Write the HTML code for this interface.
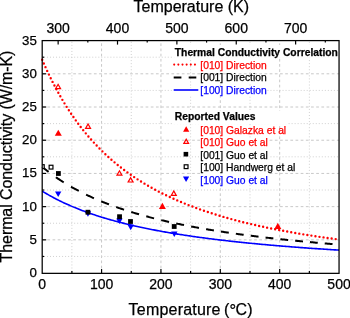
<!DOCTYPE html><html><head><meta charset="utf-8"><style>html,body{margin:0;padding:0;background:#fff;width:350px;height:318px;overflow:hidden}svg{display:block;will-change:transform}text{font-family:"Liberation Sans",sans-serif}</style></head><body><svg width="350" height="318" viewBox="0 0 350 318"><defs><clipPath id="pc"><rect x="42.20" y="40.60" width="296.85" height="232.45"/></clipPath></defs><rect width="350" height="318" fill="#fff"/><line x1="71.89" y1="40.60" x2="71.89" y2="273.05" stroke="#d0d0d0" stroke-width="1" stroke-dasharray="1 2.05" stroke-dashoffset="-1.2"/><line x1="101.57" y1="40.60" x2="101.57" y2="273.05" stroke="#c8c8c8" stroke-width="1" stroke-dasharray="2.72 2.45" stroke-dashoffset="2.4"/><line x1="131.25" y1="40.60" x2="131.25" y2="273.05" stroke="#d0d0d0" stroke-width="1" stroke-dasharray="1 2.05" stroke-dashoffset="-1.2"/><line x1="160.94" y1="40.60" x2="160.94" y2="273.05" stroke="#c8c8c8" stroke-width="1" stroke-dasharray="2.72 2.45" stroke-dashoffset="2.4"/><line x1="190.62" y1="40.60" x2="190.62" y2="273.05" stroke="#d0d0d0" stroke-width="1" stroke-dasharray="1 2.05" stroke-dashoffset="-1.2"/><line x1="220.31" y1="40.60" x2="220.31" y2="273.05" stroke="#c8c8c8" stroke-width="1" stroke-dasharray="2.72 2.45" stroke-dashoffset="2.4"/><line x1="250.00" y1="40.60" x2="250.00" y2="273.05" stroke="#d0d0d0" stroke-width="1" stroke-dasharray="1 2.05" stroke-dashoffset="-1.2"/><line x1="279.68" y1="40.60" x2="279.68" y2="273.05" stroke="#c8c8c8" stroke-width="1" stroke-dasharray="2.72 2.45" stroke-dashoffset="2.4"/><line x1="309.37" y1="40.60" x2="309.37" y2="273.05" stroke="#d0d0d0" stroke-width="1" stroke-dasharray="1 2.05" stroke-dashoffset="-1.2"/><line x1="42.20" y1="256.45" x2="339.05" y2="256.45" stroke="#d0d0d0" stroke-width="1" stroke-dasharray="1 2.02" stroke-dashoffset="-1.76"/><line x1="42.20" y1="239.84" x2="339.05" y2="239.84" stroke="#c8c8c8" stroke-width="1" stroke-dasharray="2.72 2.45"/><line x1="42.20" y1="223.24" x2="339.05" y2="223.24" stroke="#d0d0d0" stroke-width="1" stroke-dasharray="1 2.02" stroke-dashoffset="-1.76"/><line x1="42.20" y1="206.64" x2="339.05" y2="206.64" stroke="#c8c8c8" stroke-width="1" stroke-dasharray="2.72 2.45"/><line x1="42.20" y1="190.03" x2="339.05" y2="190.03" stroke="#d0d0d0" stroke-width="1" stroke-dasharray="1 2.02" stroke-dashoffset="-1.76"/><line x1="42.20" y1="173.43" x2="339.05" y2="173.43" stroke="#c8c8c8" stroke-width="1" stroke-dasharray="2.72 2.45"/><line x1="42.20" y1="156.82" x2="339.05" y2="156.82" stroke="#d0d0d0" stroke-width="1" stroke-dasharray="1 2.02" stroke-dashoffset="-1.76"/><line x1="42.20" y1="140.22" x2="339.05" y2="140.22" stroke="#c8c8c8" stroke-width="1" stroke-dasharray="2.72 2.45"/><line x1="42.20" y1="123.62" x2="339.05" y2="123.62" stroke="#d0d0d0" stroke-width="1" stroke-dasharray="1 2.02" stroke-dashoffset="-1.76"/><line x1="42.20" y1="107.01" x2="339.05" y2="107.01" stroke="#c8c8c8" stroke-width="1" stroke-dasharray="2.72 2.45"/><line x1="42.20" y1="90.41" x2="339.05" y2="90.41" stroke="#d0d0d0" stroke-width="1" stroke-dasharray="1 2.02" stroke-dashoffset="-1.76"/><line x1="42.20" y1="73.81" x2="339.05" y2="73.81" stroke="#c8c8c8" stroke-width="1" stroke-dasharray="2.72 2.45"/><line x1="42.20" y1="57.20" x2="339.05" y2="57.20" stroke="#d0d0d0" stroke-width="1" stroke-dasharray="1 2.02" stroke-dashoffset="-1.76"/><rect x="173" y="45" width="165.5" height="12.8" fill="#fff"/><rect x="200" y="59" width="67" height="11" fill="#fff"/><rect x="200" y="75" width="67" height="8" fill="#fff"/><rect x="172" y="88" width="95" height="7" fill="#fff"/><rect x="172.5" y="111" width="115.5" height="13" fill="#fff"/><rect x="200" y="138" width="69" height="37" fill="#fff"/><path d="M42.20,59.68 L43.39,62.43 L44.57,65.13 L45.76,67.77 L46.95,70.36 L48.14,72.90 L49.32,75.39 L50.51,77.83 L51.70,80.23 L52.89,82.58 L54.07,84.88 L55.26,87.15 L56.45,89.37 L57.64,91.54 L58.82,93.68 L60.01,95.78 L61.20,97.84 L62.39,99.87 L63.57,101.86 L64.76,103.81 L65.95,105.73 L67.14,107.61 L68.32,109.46 L69.51,111.28 L70.70,113.07 L71.89,114.83 L73.07,116.55 L74.26,118.25 L75.45,119.92 L76.63,121.56 L77.82,123.17 L79.01,124.76 L80.20,126.32 L81.38,127.86 L82.57,129.37 L83.76,130.86 L84.95,132.32 L86.13,133.76 L87.32,135.17 L88.51,136.57 L89.70,137.94 L90.88,139.29 L92.07,140.62 L93.26,141.93 L94.45,143.22 L95.63,144.49 L96.82,145.74 L98.01,146.97 L99.20,148.18 L100.38,149.37 L101.57,150.55 L102.76,151.71 L103.94,152.85 L105.13,153.98 L106.32,155.09 L107.51,156.18 L108.69,157.26 L109.88,158.32 L111.07,159.37 L112.26,160.40 L113.44,161.41 L114.63,162.42 L115.82,163.41 L117.01,164.38 L118.19,165.34 L119.38,166.29 L120.57,167.23 L121.76,168.15 L122.94,169.06 L124.13,169.96 L125.32,170.85 L126.51,171.72 L127.69,172.58 L128.88,173.43 L130.07,174.27 L131.25,175.10 L132.44,175.92 L133.63,176.73 L134.82,177.53 L136.00,178.31 L137.19,179.09 L138.38,179.86 L139.57,180.61 L140.75,181.36 L141.94,182.10 L143.13,182.83 L144.32,183.55 L145.50,184.26 L146.69,184.96 L147.88,185.65 L149.07,186.34 L150.25,187.01 L151.44,187.68 L152.63,188.34 L153.82,189.00 L155.00,189.64 L156.19,190.28 L157.38,190.91 L158.57,191.53 L159.75,192.14 L160.94,192.75 L162.13,193.35 L163.31,193.94 L164.50,194.53 L165.69,195.11 L166.88,195.68 L168.06,196.25 L169.25,196.81 L170.44,197.36 L171.63,197.91 L172.81,198.45 L174.00,198.99 L175.19,199.52 L176.38,200.04 L177.56,200.56 L178.75,201.07 L179.94,201.57 L181.13,202.07 L182.31,202.57 L183.50,203.06 L184.69,203.54 L185.88,204.02 L187.06,204.50 L188.25,204.97 L189.44,205.43 L190.62,205.89 L191.81,206.34 L193.00,206.79 L194.19,207.24 L195.37,207.68 L196.56,208.11 L197.75,208.55 L198.94,208.97 L200.12,209.39 L201.31,209.81 L202.50,210.23 L203.69,210.64 L204.87,211.04 L206.06,211.44 L207.25,211.84 L208.44,212.23 L209.62,212.62 L210.81,213.01 L212.00,213.39 L213.19,213.77 L214.37,214.14 L215.56,214.51 L216.75,214.88 L217.94,215.24 L219.12,215.60 L220.31,215.96 L221.50,216.31 L222.68,216.66 L223.87,217.00 L225.06,217.35 L226.25,217.69 L227.43,218.02 L228.62,218.35 L229.81,218.68 L231.00,219.01 L232.18,219.33 L233.37,219.66 L234.56,219.97 L235.75,220.29 L236.93,220.60 L238.12,220.91 L239.31,221.21 L240.50,221.52 L241.68,221.82 L242.87,222.12 L244.06,222.41 L245.25,222.70 L246.43,222.99 L247.62,223.28 L248.81,223.57 L250.00,223.85 L251.18,224.13 L252.37,224.41 L253.56,224.68 L254.74,224.95 L255.93,225.22 L257.12,225.49 L258.31,225.75 L259.49,226.02 L260.68,226.28 L261.87,226.54 L263.06,226.79 L264.24,227.05 L265.43,227.30 L266.62,227.55 L267.81,227.80 L268.99,228.04 L270.18,228.28 L271.37,228.53 L272.56,228.77 L273.74,229.00 L274.93,229.24 L276.12,229.47 L277.31,229.70 L278.49,229.93 L279.68,230.16 L280.87,230.39 L282.05,230.61 L283.24,230.83 L284.43,231.05 L285.62,231.27 L286.80,231.49 L287.99,231.70 L289.18,231.92 L290.37,232.13 L291.55,232.34 L292.74,232.54 L293.93,232.75 L295.12,232.96 L296.30,233.16 L297.49,233.36 L298.68,233.56 L299.87,233.76 L301.05,233.96 L302.24,234.15 L303.43,234.35 L304.62,234.54 L305.80,234.73 L306.99,234.92 L308.18,235.11 L309.37,235.29 L310.55,235.48 L311.74,235.66 L312.93,235.84 L314.11,236.02 L315.30,236.20 L316.49,236.38 L317.68,236.56 L318.86,236.73 L320.05,236.91 L321.24,237.08 L322.43,237.25 L323.61,237.42 L324.80,237.59 L325.99,237.76 L327.18,237.93 L328.36,238.09 L329.55,238.26 L330.74,238.42 L331.93,238.58 L333.11,238.74 L334.30,238.90 L335.49,239.06 L336.68,239.22 L337.86,239.37 L339.05,239.53" fill="none" stroke="#ff0000" stroke-width="2.4" stroke-linecap="round" stroke-dasharray="0 4.09"/><path d="M42.20,166.86 L43.00,167.52 L43.80,168.17 L44.59,168.81 L45.39,169.45 L46.19,170.08 L46.99,170.70 L47.79,171.31 L48.59,171.92 M55.91,177.22 L56.89,177.89 L57.86,178.55 L58.84,179.20 L59.81,179.84 L60.79,180.48 L61.76,181.11 L62.74,181.73 L63.71,182.34 M71.02,186.71 L72.00,187.26 L72.97,187.81 L73.95,188.35 L74.92,188.89 L75.90,189.42 L76.87,189.94 L77.85,190.46 L78.82,190.97 M86.11,194.62 L87.09,195.09 L88.06,195.55 L89.04,196.01 L90.01,196.46 L90.99,196.91 L91.96,197.35 L92.94,197.79 L93.91,198.22 M101.18,201.32 L102.15,201.72 L103.13,202.11 L104.10,202.50 L105.08,202.89 L106.05,203.27 L107.03,203.65 L108.00,204.02 L108.98,204.40 M116.23,207.05 L117.20,207.39 L118.18,207.73 L119.15,208.07 L120.13,208.40 L121.10,208.73 L122.08,209.06 L123.05,209.38 L124.03,209.71 M131.25,212.00 L132.23,212.30 L133.20,212.60 L134.18,212.89 L135.15,213.18 L136.13,213.47 L137.10,213.75 L138.08,214.04 L139.05,214.32 M146.26,216.32 L147.23,216.58 L148.21,216.84 L149.18,217.10 L150.16,217.35 L151.13,217.61 L152.11,217.86 L153.08,218.11 L154.06,218.35 M161.24,220.12 L162.22,220.35 L163.19,220.58 L164.17,220.80 L165.14,221.03 L166.12,221.25 L167.09,221.48 L168.07,221.70 L169.04,221.92 M176.21,223.48 L177.18,223.68 L178.16,223.89 L179.13,224.09 L180.11,224.29 L181.08,224.49 L182.06,224.69 L183.03,224.88 L184.01,225.08 M191.15,226.47 L192.13,226.65 L193.10,226.83 L194.08,227.02 L195.05,227.20 L196.03,227.37 L197.00,227.55 L197.98,227.73 L198.95,227.90 M206.08,229.15 L207.05,229.31 L208.03,229.48 L209.00,229.64 L209.98,229.80 L210.95,229.96 L211.93,230.12 L212.90,230.28 L213.88,230.44 M220.98,231.56 L221.95,231.71 L222.93,231.86 L223.90,232.01 L224.88,232.15 L225.85,232.30 L226.83,232.44 L227.80,232.59 L228.78,232.73 M235.86,233.74 L236.83,233.88 L237.81,234.01 L238.78,234.15 L239.76,234.28 L240.73,234.41 L241.71,234.54 L242.68,234.68 L243.66,234.81 M250.72,235.72 L251.70,235.85 L252.67,235.97 L253.65,236.09 L254.62,236.22 L255.60,236.34 L256.57,236.46 L257.55,236.58 L258.52,236.69 M265.56,237.53 L266.54,237.65 L267.51,237.76 L268.49,237.87 L269.46,237.98 L270.44,238.09 L271.41,238.20 L272.39,238.31 L273.36,238.42 M280.38,239.19 L281.36,239.29 L282.33,239.39 L283.31,239.50 L284.28,239.60 L285.26,239.70 L286.23,239.80 L287.21,239.90 L288.18,240.00 M295.18,240.71 L296.15,240.80 L297.13,240.90 L298.10,240.99 L299.08,241.09 L300.05,241.18 L301.03,241.27 L302.00,241.37 L302.98,241.46 M309.96,242.11 L310.93,242.19 L311.91,242.28 L312.88,242.37 L313.86,242.46 L314.83,242.54 L315.81,242.63 L316.78,242.72 L317.76,242.80 M324.72,243.40 L325.69,243.48 L326.67,243.56 L327.64,243.64 L328.62,243.72 L329.59,243.81 L330.57,243.89 L331.54,243.96 L332.52,244.04" fill="none" stroke="#000" stroke-width="2"/><path d="M42.20,191.14 L43.39,191.87 L44.57,192.59 L45.76,193.29 L46.95,193.99 L48.14,194.67 L49.32,195.34 L50.51,196.00 L51.70,196.65 L52.89,197.30 L54.07,197.93 L55.26,198.55 L56.45,199.17 L57.64,199.77 L58.82,200.36 L60.01,200.95 L61.20,201.53 L62.39,202.10 L63.57,202.66 L64.76,203.21 L65.95,203.76 L67.14,204.30 L68.32,204.83 L69.51,205.35 L70.70,205.87 L71.89,206.38 L73.07,206.88 L74.26,207.37 L75.45,207.86 L76.63,208.34 L77.82,208.82 L79.01,209.29 L80.20,209.75 L81.38,210.21 L82.57,210.66 L83.76,211.10 L84.95,211.54 L86.13,211.97 L87.32,212.40 L88.51,212.82 L89.70,213.24 L90.88,213.65 L92.07,214.06 L93.26,214.46 L94.45,214.86 L95.63,215.25 L96.82,215.64 L98.01,216.02 L99.20,216.40 L100.38,216.77 L101.57,217.14 L102.76,217.51 L103.94,217.87 L105.13,218.22 L106.32,218.58 L107.51,218.92 L108.69,219.27 L109.88,219.61 L111.07,219.94 L112.26,220.28 L113.44,220.60 L114.63,220.93 L115.82,221.25 L117.01,221.57 L118.19,221.88 L119.38,222.19 L120.57,222.50 L121.76,222.80 L122.94,223.10 L124.13,223.40 L125.32,223.69 L126.51,223.99 L127.69,224.27 L128.88,224.56 L130.07,224.84 L131.25,225.12 L132.44,225.39 L133.63,225.67 L134.82,225.94 L136.00,226.21 L137.19,226.47 L138.38,226.73 L139.57,226.99 L140.75,227.25 L141.94,227.50 L143.13,227.75 L144.32,228.00 L145.50,228.25 L146.69,228.49 L147.88,228.73 L149.07,228.97 L150.25,229.21 L151.44,229.45 L152.63,229.68 L153.82,229.91 L155.00,230.14 L156.19,230.36 L157.38,230.59 L158.57,230.81 L159.75,231.03 L160.94,231.24 L162.13,231.46 L163.31,231.67 L164.50,231.88 L165.69,232.09 L166.88,232.30 L168.06,232.51 L169.25,232.71 L170.44,232.91 L171.63,233.11 L172.81,233.31 L174.00,233.51 L175.19,233.70 L176.38,233.89 L177.56,234.09 L178.75,234.27 L179.94,234.46 L181.13,234.65 L182.31,234.83 L183.50,235.02 L184.69,235.20 L185.88,235.38 L187.06,235.56 L188.25,235.73 L189.44,235.91 L190.62,236.08 L191.81,236.25 L193.00,236.42 L194.19,236.59 L195.37,236.76 L196.56,236.93 L197.75,237.09 L198.94,237.26 L200.12,237.42 L201.31,237.58 L202.50,237.74 L203.69,237.90 L204.87,238.06 L206.06,238.21 L207.25,238.37 L208.44,238.52 L209.62,238.67 L210.81,238.82 L212.00,238.97 L213.19,239.12 L214.37,239.27 L215.56,239.42 L216.75,239.56 L217.94,239.71 L219.12,239.85 L220.31,239.99 L221.50,240.13 L222.68,240.27 L223.87,240.41 L225.06,240.55 L226.25,240.68 L227.43,240.82 L228.62,240.95 L229.81,241.09 L231.00,241.22 L232.18,241.35 L233.37,241.48 L234.56,241.61 L235.75,241.74 L236.93,241.87 L238.12,241.99 L239.31,242.12 L240.50,242.24 L241.68,242.37 L242.87,242.49 L244.06,242.61 L245.25,242.73 L246.43,242.85 L247.62,242.97 L248.81,243.09 L250.00,243.21 L251.18,243.32 L252.37,243.44 L253.56,243.56 L254.74,243.67 L255.93,243.78 L257.12,243.90 L258.31,244.01 L259.49,244.12 L260.68,244.23 L261.87,244.34 L263.06,244.45 L264.24,244.56 L265.43,244.66 L266.62,244.77 L267.81,244.88 L268.99,244.98 L270.18,245.09 L271.37,245.19 L272.56,245.29 L273.74,245.40 L274.93,245.50 L276.12,245.60 L277.31,245.70 L278.49,245.80 L279.68,245.90 L280.87,246.00 L282.05,246.09 L283.24,246.19 L284.43,246.29 L285.62,246.38 L286.80,246.48 L287.99,246.57 L289.18,246.67 L290.37,246.76 L291.55,246.85 L292.74,246.95 L293.93,247.04 L295.12,247.13 L296.30,247.22 L297.49,247.31 L298.68,247.40 L299.87,247.49 L301.05,247.58 L302.24,247.66 L303.43,247.75 L304.62,247.84 L305.80,247.92 L306.99,248.01 L308.18,248.09 L309.37,248.18 L310.55,248.26 L311.74,248.35 L312.93,248.43 L314.11,248.51 L315.30,248.59 L316.49,248.67 L317.68,248.76 L318.86,248.84 L320.05,248.92 L321.24,249.00 L322.43,249.07 L323.61,249.15 L324.80,249.23 L325.99,249.31 L327.18,249.39 L328.36,249.46 L329.55,249.54 L330.74,249.61 L331.93,249.69 L333.11,249.76 L334.30,249.84 L335.49,249.91 L336.68,249.99 L337.86,250.06 L339.05,250.13" fill="none" stroke="#0000ff" stroke-width="1.6"/><polygon points="55.00,191.42 61.40,191.42 58.20,196.98" fill="#0000ff"/><polygon points="84.75,211.22 91.15,211.22 87.95,216.78" fill="#0000ff"/><polygon points="116.20,218.52 122.60,218.52 119.40,224.08" fill="#0000ff"/><polygon points="127.50,224.72 133.90,224.72 130.70,230.28" fill="#0000ff"/><polygon points="171.10,231.42 177.50,231.42 174.30,236.98" fill="#0000ff"/><rect x="56.00" y="171.10" width="4.8" height="4.8" fill="#000"/><rect x="85.50" y="209.80" width="4.8" height="4.8" fill="#000"/><rect x="117.15" y="214.30" width="4.8" height="4.8" fill="#000"/><rect x="128.10" y="219.10" width="4.8" height="4.8" fill="#000"/><rect x="171.80" y="224.10" width="4.8" height="4.8" fill="#000"/><rect x="49.15" y="165.25" width="3.8" height="3.8" fill="#fff" stroke="#000" stroke-width="1.2"/><g clip-path="url(#pc)"><rect x="40.40" y="164.70" width="3.8" height="3.8" fill="#fff" stroke="#000" stroke-width="1.2"/></g><path d="M54.60,89.25 L61.60,89.25 L58.10,83.16 Z M56.68,88.04 L59.52,88.04 L58.10,85.57 Z" fill="#ff0000" fill-rule="evenodd"/><path d="M84.55,128.94 L91.55,128.94 L88.05,122.86 Z M86.63,127.74 L89.47,127.74 L88.05,125.27 Z" fill="#ff0000" fill-rule="evenodd"/><path d="M115.95,175.79 L122.95,175.79 L119.45,169.71 Z M118.03,174.59 L120.87,174.59 L119.45,172.12 Z" fill="#ff0000" fill-rule="evenodd"/><path d="M127.10,182.59 L134.10,182.59 L130.60,176.51 Z M129.18,181.39 L132.02,181.39 L130.60,178.92 Z" fill="#ff0000" fill-rule="evenodd"/><path d="M170.30,195.94 L177.30,195.94 L173.80,189.86 Z M172.38,194.74 L175.22,194.74 L173.80,192.27 Z" fill="#ff0000" fill-rule="evenodd"/><polygon points="54.80,135.84 61.80,135.84 58.30,129.76" fill="#ff0000"/><polygon points="158.90,208.94 165.90,208.94 162.40,202.86" fill="#ff0000"/><polygon points="274.30,228.94 281.30,228.94 277.80,222.86" fill="#ff0000"/><rect x="42.20" y="40.60" width="296.85" height="232.75" fill="none" stroke="#000" stroke-width="1.25"/><line x1="71.89" y1="273.05" x2="71.89" y2="271.05" stroke="#000" stroke-width="1.2"/><line x1="101.57" y1="273.05" x2="101.57" y2="269.05" stroke="#000" stroke-width="1.2"/><line x1="131.25" y1="273.05" x2="131.25" y2="271.05" stroke="#000" stroke-width="1.2"/><line x1="160.94" y1="273.05" x2="160.94" y2="269.05" stroke="#000" stroke-width="1.2"/><line x1="190.62" y1="273.05" x2="190.62" y2="271.05" stroke="#000" stroke-width="1.2"/><line x1="220.31" y1="273.05" x2="220.31" y2="269.05" stroke="#000" stroke-width="1.2"/><line x1="250.00" y1="273.05" x2="250.00" y2="271.05" stroke="#000" stroke-width="1.2"/><line x1="279.68" y1="273.05" x2="279.68" y2="269.05" stroke="#000" stroke-width="1.2"/><line x1="309.37" y1="273.05" x2="309.37" y2="271.05" stroke="#000" stroke-width="1.2"/><line x1="42.20" y1="256.45" x2="44.20" y2="256.45" stroke="#000" stroke-width="1.2"/><line x1="42.20" y1="239.84" x2="46.20" y2="239.84" stroke="#000" stroke-width="1.2"/><line x1="42.20" y1="223.24" x2="44.20" y2="223.24" stroke="#000" stroke-width="1.2"/><line x1="42.20" y1="206.64" x2="46.20" y2="206.64" stroke="#000" stroke-width="1.2"/><line x1="42.20" y1="190.03" x2="44.20" y2="190.03" stroke="#000" stroke-width="1.2"/><line x1="42.20" y1="173.43" x2="46.20" y2="173.43" stroke="#000" stroke-width="1.2"/><line x1="42.20" y1="156.82" x2="44.20" y2="156.82" stroke="#000" stroke-width="1.2"/><line x1="42.20" y1="140.22" x2="46.20" y2="140.22" stroke="#000" stroke-width="1.2"/><line x1="42.20" y1="123.62" x2="44.20" y2="123.62" stroke="#000" stroke-width="1.2"/><line x1="42.20" y1="107.01" x2="46.20" y2="107.01" stroke="#000" stroke-width="1.2"/><line x1="42.20" y1="90.41" x2="44.20" y2="90.41" stroke="#000" stroke-width="1.2"/><line x1="42.20" y1="73.81" x2="46.20" y2="73.81" stroke="#000" stroke-width="1.2"/><line x1="42.20" y1="57.20" x2="44.20" y2="57.20" stroke="#000" stroke-width="1.2"/><line x1="58.14" y1="40.60" x2="58.14" y2="44.60" stroke="#000" stroke-width="1.2"/><line x1="87.83" y1="40.60" x2="87.83" y2="42.60" stroke="#000" stroke-width="1.2"/><line x1="117.51" y1="40.60" x2="117.51" y2="44.60" stroke="#000" stroke-width="1.2"/><line x1="147.20" y1="40.60" x2="147.20" y2="42.60" stroke="#000" stroke-width="1.2"/><line x1="176.88" y1="40.60" x2="176.88" y2="44.60" stroke="#000" stroke-width="1.2"/><line x1="206.57" y1="40.60" x2="206.57" y2="42.60" stroke="#000" stroke-width="1.2"/><line x1="236.25" y1="40.60" x2="236.25" y2="44.60" stroke="#000" stroke-width="1.2"/><line x1="265.94" y1="40.60" x2="265.94" y2="42.60" stroke="#000" stroke-width="1.2"/><line x1="295.62" y1="40.60" x2="295.62" y2="44.60" stroke="#000" stroke-width="1.2"/><line x1="325.31" y1="40.60" x2="325.31" y2="42.60" stroke="#000" stroke-width="1.2"/><text x="42.20" y="289.2" font-size="14" text-anchor="middle" stroke="#000" stroke-width="0.25">0</text><text x="101.57" y="289.2" font-size="14" text-anchor="middle" stroke="#000" stroke-width="0.25">100</text><text x="160.94" y="289.2" font-size="14" text-anchor="middle" stroke="#000" stroke-width="0.25">200</text><text x="220.31" y="289.2" font-size="14" text-anchor="middle" stroke="#000" stroke-width="0.25">300</text><text x="279.68" y="289.2" font-size="14" text-anchor="middle" stroke="#000" stroke-width="0.25">400</text><text x="339.05" y="289.2" font-size="14" text-anchor="middle" stroke="#000" stroke-width="0.25">500</text><text x="36.9" y="276.95" font-size="13.3" text-anchor="end" stroke="#000" stroke-width="0.25">0</text><text x="36.9" y="243.74" font-size="13.3" text-anchor="end" stroke="#000" stroke-width="0.25">5</text><text x="36.9" y="210.54" font-size="13.3" text-anchor="end" stroke="#000" stroke-width="0.25">10</text><text x="36.9" y="177.33" font-size="13.3" text-anchor="end" stroke="#000" stroke-width="0.25">15</text><text x="36.9" y="144.12" font-size="13.3" text-anchor="end" stroke="#000" stroke-width="0.25">20</text><text x="36.9" y="110.91" font-size="13.3" text-anchor="end" stroke="#000" stroke-width="0.25">25</text><text x="36.9" y="77.71" font-size="13.3" text-anchor="end" stroke="#000" stroke-width="0.25">30</text><text x="36.9" y="44.50" font-size="13.3" text-anchor="end" stroke="#000" stroke-width="0.25">35</text><text x="58.14" y="32.7" font-size="14" text-anchor="middle" stroke="#000" stroke-width="0.25">300</text><text x="117.51" y="32.7" font-size="14" text-anchor="middle" stroke="#000" stroke-width="0.25">400</text><text x="176.88" y="32.7" font-size="14" text-anchor="middle" stroke="#000" stroke-width="0.25">500</text><text x="236.25" y="32.7" font-size="14" text-anchor="middle" stroke="#000" stroke-width="0.25">600</text><text x="295.62" y="32.7" font-size="14" text-anchor="middle" stroke="#000" stroke-width="0.25">700</text><text x="133.5" y="12" font-size="16" stroke="#000" stroke-width="0.25">Temperature (K)</text><text x="128.62" y="314.9" font-size="16" letter-spacing="0.2" stroke="#000" stroke-width="0.25">Temperature</text><text x="223.9" y="314.9" font-size="16" stroke="#000" stroke-width="0.25">(</text><text x="229.5" y="315.8" font-size="16.5" stroke="#000" stroke-width="0.25">°</text><text x="235.6" y="314.9" font-size="16" stroke="#000" stroke-width="0.25">C)</text><text transform="translate(12.1,262.4) rotate(-90)" font-size="16" textLength="211.85" lengthAdjust="spacing" stroke="#000" stroke-width="0.25">Thermal Conductivity (W/m-K)</text><text x="174.8" y="55.6" font-size="10.3" font-weight="bold" stroke="#000" stroke-width="0.25">Thermal Conductivity Correlation</text><path d="M174.2,64.6 L196,64.6" stroke="#ff0000" stroke-width="2.1" stroke-linecap="round" stroke-dasharray="0 4.15"/><path d="M173.7,77.5 L181.4,77.5 M188.7,77.5 L196.3,77.5" stroke="#000" stroke-width="1.9"/><path d="M173.7,90 L198.3,90" stroke="#0000ff" stroke-width="1.6"/><text x="200.3" y="68.7" font-size="10.3" fill="#ff0000" stroke="#ff0000" stroke-width="0.25">[010] Direction</text><text x="200.3" y="81.1" font-size="10.3" fill="#000" stroke="#000" stroke-width="0.25">[001] Direction</text><text x="200.3" y="93.5" font-size="10.3" fill="#0000ff" stroke="#0000ff" stroke-width="0.25">[100] Direction</text><text x="174.8" y="120.2" font-size="10.3" font-weight="bold" stroke="#000" stroke-width="0.25">Reported Values</text><polygon points="183.10,131.70 189.30,131.70 186.20,126.30" fill="#ff0000"/><path d="M182.80,143.96 L189.60,143.96 L186.20,138.04 Z M184.88,142.75 L187.52,142.75 L186.20,140.46 Z" fill="#ff0000" fill-rule="evenodd"/><rect x="183.60" y="151.90" width="4.6" height="4.6" fill="#000"/><rect x="184.20" y="164.80" width="3.8" height="3.8" fill="#fff" stroke="#000" stroke-width="1.2"/><polygon points="183.00,176.50 189.20,176.50 186.10,181.90" fill="#0000ff"/><text x="200.3" y="133.5" font-size="10.3" fill="#ff0000" stroke="#ff0000" stroke-width="0.25">[010] Galazka et al</text><text x="200.3" y="146.0" font-size="10.3" fill="#ff0000" stroke="#ff0000" stroke-width="0.25">[010] Guo et al</text><text x="200.3" y="158.5" font-size="10.3" fill="#000" stroke="#000" stroke-width="0.25">[001] Guo et al</text><text x="200.3" y="171.0" font-size="10.3" fill="#000" stroke="#000" stroke-width="0.25">[100] Handwerg et al</text><text x="200.3" y="183.5" font-size="10.3" fill="#0000ff" stroke="#0000ff" stroke-width="0.25">[100] Guo et al</text></svg></body></html>
